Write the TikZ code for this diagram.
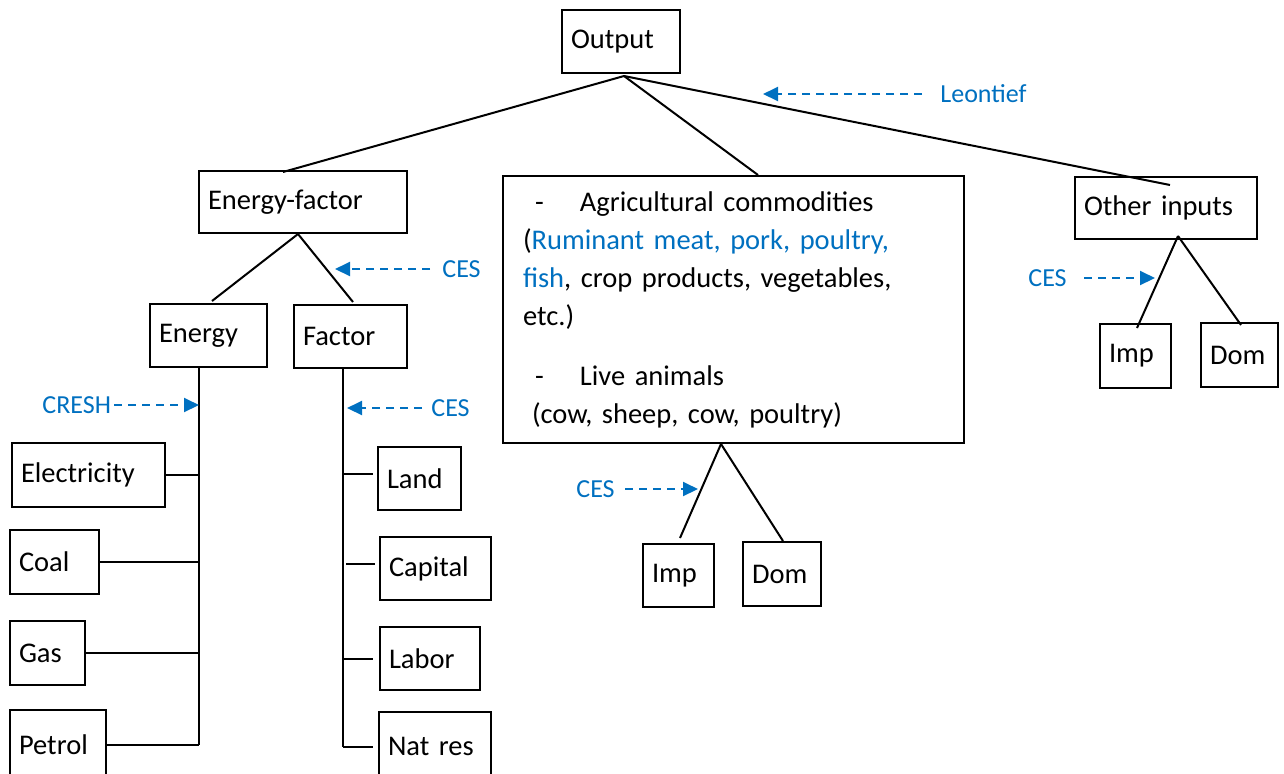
\documentclass[tikz,border=0pt]{standalone}
\usepackage{fontspec}
\setmainfont{Carlito}
\usetikzlibrary{arrows.meta}
\definecolor{cesblue}{RGB}{0,112,192}
\begin{document}
\begin{tikzpicture}[x=0.5pt,y=-0.5pt,
  box/.style={draw, line width=1pt, inner xsep=4.5pt, inner ysep=0pt, align=left,
    font=\fontsize{14.25}{17}\selectfont},
  link/.style={line width=1pt},
  tag/.style={text=cesblue, inner sep=0pt, anchor=west, font=\fontsize{13}{15}\selectfont},
  carrow/.style={draw=cesblue, line width=1pt, dash pattern=on 4pt off 3pt,
    -{Triangle[length=7.5pt,width=7pt]}}]
\clip (0,0) rectangle (1284,773);

% top level
\node[box, minimum width=59pt, minimum height=31.5pt, text width=50pt] (out) at (621,41.5) {Output};
\node[box, minimum width=104pt, minimum height=31pt, text width=95pt] (ef) at (303,202) {Energy-factor};
\node[box, minimum width=230.5pt, minimum height=133.5pt, inner xsep=10pt, text width=210.5pt,
  font=\fontsize{14.25}{19}\selectfont] (ag) at (733.5,309.5) {%
\makebox[28.5pt][l]{\hspace*{6pt}-}Agricultural commodities\\
(\textcolor{cesblue}{Ruminant meat, pork, poultry,}\\
\textcolor{cesblue}{fish}, crop products, vegetables,\\
etc.)\\[11pt]
\makebox[28.5pt][l]{\hspace*{6pt}-}Live animals\\
\hspace*{4.5pt}(cow, sheep, cow, poultry)};
\node[box, minimum width=91pt, minimum height=31pt, text width=82pt] (ot) at (1166,208) {Other inputs};

% energy-factor nest
\node[box, minimum width=58.5pt, minimum height=31.5pt, text width=49.5pt] (en) at (208.5,335.5) {Energy};
\node[box, minimum width=56.5pt, minimum height=31.5pt, text width=47.5pt] (fa) at (350.5,336.5) {Factor};

\node[box, minimum width=76.5pt, minimum height=32pt, text width=67.5pt] (el) at (88.5,475) {Electricity};
\node[box, minimum width=44.5pt, minimum height=32pt, text width=35.5pt] (co) at (54.5,562) {Coal};
\node[box, minimum width=37.5pt, minimum height=32pt, text width=28.5pt] (ga) at (47.5,653) {Gas};
\node[box, minimum width=48pt, minimum height=35pt, text width=39pt] (pe) at (58,745) {Petrol};

\node[box, minimum width=41.5pt, minimum height=31.5pt, text width=32.5pt] (la) at (419.5,478.5) {Land};
\node[box, minimum width=55.5pt, minimum height=31.5pt, text width=46.5pt] (ca) at (435.5,568.5) {Capital};
\node[box, minimum width=50pt, minimum height=31.5pt, text width=41pt] (lb) at (430,658.5) {Labor};
\node[box, minimum width=56pt, minimum height=34pt, text width=47pt] (nr) at (435,746) {Nat res};

% import / domestic splits
\node[box, minimum width=35.5pt, minimum height=31.5pt, text width=26.5pt] (im1) at (678.5,575.5) {Imp};
\node[box, minimum width=39pt, minimum height=32pt, text width=30pt] (do1) at (782,574) {Dom};
\node[box, minimum width=35.5pt, minimum height=32pt, text width=26.5pt] (im2) at (1135.5,356) {Imp};
\node[box, minimum width=38.5pt, minimum height=32pt, text width=29.5pt] (do2) at (1239.5,355) {Dom};

% tree links
\coordinate (out-b) at ([xshift=1.5pt,yshift=-1pt]out.south);
\draw[link] (out-b) -- ([xshift=-10pt,yshift=-1pt]ef.north);
\draw[link] (out-b) -- ([xshift=12.25pt]ag.north);
\draw[link] (out-b) -- ([xshift=2pt,yshift=-4.5pt]ot.north);

\coordinate (ef-b) at ([xshift=-2.5pt]ef.south);
\draw[link] (ef-b) -- ([xshift=1.75pt,yshift=1pt]en.north);
\draw[link] (ef-b) -- ([xshift=1.25pt,yshift=1pt]fa.north);

\coordinate (en-top) at ([xshift=-4.75pt]en.south);
\coordinate (en-bot) at (en-top |- pe.east);
\draw[link] (en-top) -- (en-bot);
\draw[link] (el.east) -- (el.east -| en-top);
\draw[link] (co.east) -- (co.east -| en-top);
\draw[link] (ga.east) -- (ga.east -| en-top);
\draw[link] (pe.east) -- (pe.east -| en-top);

\coordinate (fa-top) at ([xshift=-3.75pt]fa.south);
\coordinate (fa-bot) at ([yshift=-0.5pt]fa-top |- nr.west);
\draw[link] (fa-top) -- (fa-bot);
\coordinate (la-w) at ([yshift=2.25pt]la.west);
\coordinate (ca-w) at ([yshift=2.25pt]ca.west);
\draw[link] (la-w -| fa-top) -- ([xshift=-2pt]la-w);
\draw[link] ([xshift=1.5pt]ca-w -| fa-top) -- ([xshift=-2pt]ca-w);
\draw[link] (lb.west -| fa-top) -- ([xshift=-3pt]lb.west);
\draw[link] (fa-bot) -- ([xshift=-2.5pt]fa-bot -| nr.west);

\coordinate (ag-b) at ([xshift=-6.25pt]ag.south);
\draw[link] (ag-b) -- ([xshift=0.75pt,yshift=2.5pt]im1.north);
\draw[link] (ag-b) -- ([xshift=0.5pt]do1.north);

\coordinate (ot-b) at ([xshift=6pt,yshift=2pt]ot.south);
\draw[link] (ot-b) -- ([xshift=0.75pt,yshift=-2.5pt]im2.north);
\draw[link] (ot-b) -- ([xshift=0.75pt,yshift=-1.5pt]do2.north);

% substitution labels
\node[tag] (leo) at (940,94) {Leontief};
\coordinate (leo-tip) at (763,94);
\draw[carrow] ([xshift=-9pt]leo.west) -- (leo-tip);

\node[tag] (ces1) at (442,269) {CES};
\coordinate (ces1-tip) at (335,269);
\draw[carrow] ([xshift=-6pt]ces1.west) -- (ces1-tip);

\node[tag] (cresh) at (42,405) {CRESH};
\draw[carrow] ([xshift=1.5pt]cresh.east) -- (cresh.east -| en-top);

\node[tag] (ces2) at (431,408) {CES};
\draw[carrow] ([xshift=-4.5pt]ces2.west) -- ([xshift=2pt]ces2.west -| fa-top);

\node[tag] (ces3) at (576,489) {CES};
\coordinate (ces3-tip) at (698,489);
\draw[carrow] ([xshift=5pt]ces3.east) -- (ces3-tip);

\node[tag] (ces4) at (1028,278) {CES};
\coordinate (ces4-tip) at (1155,278);
\draw[carrow] ([xshift=8.5pt]ces4.east) -- (ces4-tip);
\end{tikzpicture}
\end{document}
